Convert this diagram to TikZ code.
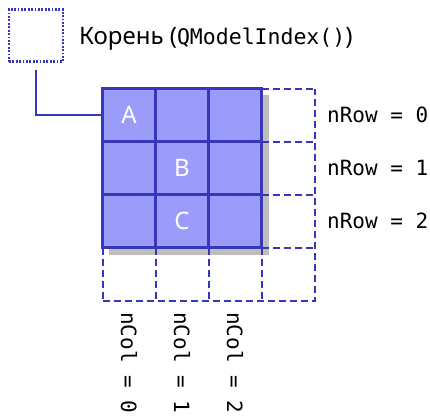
\documentclass[tikz,border=0pt]{standalone}
\usepackage{fontspec}
\setmainfont{Noto Sans}
\setmonofont{DejaVu Sans Mono}
\definecolor{gridline}{RGB}{55,55,185}
\definecolor{gridfill}{RGB}{155,155,250}
\definecolor{shadowgray}{RGB}{190,190,190}
\tikzset{
    cell/.style={draw=gridline,fill=gridfill,line width=2.4pt,minimum size=53pt,inner sep=0pt,
                 text=white,font=\fontsize{24}{28}\selectfont},
    emptyline/.style={draw=gridline,line width=2pt,dash pattern=on 7pt off 4pt},
    rootbox/.style={draw=gridline,line width=2.2pt,dash pattern=on 1.8pt off 1.6pt,minimum width=54pt,minimum height=52pt,inner sep=0pt},
    link/.style={draw=gridline,line width=2.6pt},
    idxlabel/.style={font=\ttfamily\fontsize{21}{25}\selectfont,inner sep=0pt}
}
\begin{document}
\begin{tikzpicture}[x=1pt,y=-1pt]
    \useasboundingbox (0,0) rectangle (430,415);

    % root
    \node[rootbox] (root) at (36,35.5) {};
    \node[anchor=base west,inner sep=0pt,font=\fontsize{24}{28}\selectfont] (rootlabel) at (79,44)
         {Корень ({\ttfamily\fontsize{21.5}{25}\selectfont QModelIndex()})};

    % shadow
    \fill[shadowgray] (108.5,94.5) rectangle (268.5,254.5);

    % empty column and row
    \foreach \y in {88.5,141.5,194.5,247.5}
        \draw[emptyline] (262,\y) -- (315,\y);
    \draw[emptyline] (102.5,300.5) -- (315,300.5) -- (315,88.5);
    \foreach \x in {102.5,155.5,208.5,261.5}
        \draw[emptyline] (\x,247.5) -- (\x,300.5);

    % grid
    \foreach \r in {0,1,2}{
        \foreach \c in {0,1,2}{
            \node[cell] (c\r\c) at (129+53*\c,115+53*\r) {};
        }
    }
    \node[cell,draw=none,fill=none] at (c00) {A};
    \node[cell,draw=none,fill=none] at (c11) {B};
    \node[cell,draw=none,fill=none] at (c21) {C};

    % connector
    \draw[link] ([yshift=-7pt]root.south) |- (c00.west);

    % row and column numbers
    \foreach \r in {0,1,2}
        \node[idxlabel,anchor=west] (row\r) at (327,115+53*\r) {nRow = \r};
    \foreach \c in {0,1,2}
        \node[idxlabel,anchor=west,rotate=-90] (col\c) at (129+53*\c,312) {nCol = \c};
\end{tikzpicture}
\end{document}
